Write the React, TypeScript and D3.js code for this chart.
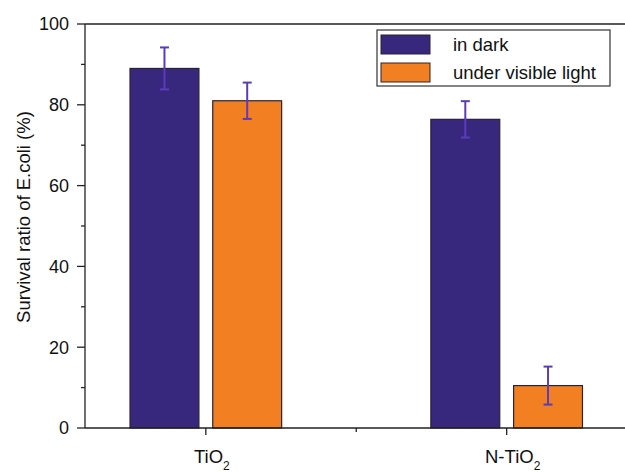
import React from "react";
import * as d3 from "d3";

const categories = ["TiO", "N-TiO"];
const series = ["in dark", "under visible light"];
const darkValues = [89, 76.4];
const darkErrors = [5.2, 4.5];
const lightValues = [81, 10.5];
const lightErrors = [4.5, 4.7];
const yTicks = [0, 20, 40, 60, 80, 100];
const yMinorTicks = [10, 30, 50, 70, 90];
const colors = ["#37287e", "#f28022"];

const W = 625;
const H = 472;
const FONT = "'Liberation Sans', Arial, Helvetica, sans-serif";

export default function App() {
  const x = d3.scaleLinear().domain([0.6, 2.4]).range([85.5, 627]);
  const y = d3.scaleLinear().domain([0, 100]).range([428, 24]);
  const barW = 0.229;
  const offset = 0.1375;
  const errColor = "#5b3cb8";

  const seriesData = [
    { values: darkValues, errors: darkErrors, off: -offset, color: colors[0] },
    { values: lightValues, errors: lightErrors, off: offset, color: colors[1] },
  ];

  return (
    <svg width={W} height={H} style={{ position: "absolute", left: 0, top: 0, background: "#fff" }}
      fontFamily={FONT}>
      {/* bars */}
      {seriesData.map((s, si) =>
        s.values.map((v, i) => {
          const cx = i + 1 + s.off;
          const x0 = x(cx - barW / 2);
          const x1 = x(cx + barW / 2);
          return (
            <rect key={`b${si}-${i}`} x={x0} y={y(v)} width={x1 - x0} height={y(0) - y(v)}
              fill={s.color} stroke="#2a2230" strokeWidth={1.2} />
          );
        })
      )}
      {/* error bars */}
      {seriesData.map((s, si) =>
        s.values.map((v, i) => {
          const cx = x(i + 1 + s.off);
          const e = s.errors[i];
          return (
            <g key={`e${si}-${i}`} stroke={errColor} strokeWidth={2}>
              <line x1={cx} x2={cx} y1={y(v + e)} y2={y(v - e)} />
              <line x1={cx - 4.5} x2={cx + 4.5} y1={y(v + e)} y2={y(v + e)} />
              <line x1={cx - 4.5} x2={cx + 4.5} y1={y(v - e)} y2={y(v - e)} />
            </g>
          );
        })
      )}
      {/* axes frame */}
      <line x1={85} x2={625} y1={y(100)} y2={y(100)} stroke="#222" strokeWidth={1.3} />
      <line x1={85} x2={625} y1={y(0)} y2={y(0)} stroke="#222" strokeWidth={1.3} />
      <line x1={85} x2={85} y1={y(100)} y2={y(0)} stroke="#222" strokeWidth={1.3} />
      {/* y ticks */}
      {yTicks.map((t) => (
        <g key={`yt${t}`}>
          <line x1={77} x2={85} y1={y(t)} y2={y(t)} stroke="#222" strokeWidth={1.3} />
          <text x={69} y={y(t)} dy="0.36em" textAnchor="end" fontSize={18} fill="#111">{t}</text>
        </g>
      ))}
      {yMinorTicks.map((t) => (
        <line key={`ym${t}`} x1={81} x2={85} y1={y(t)} y2={y(t)} stroke="#222" strokeWidth={1.3} />
      ))}
      {/* x ticks */}
      {categories.map((c, i) => (
        <g key={`xt${i}`}>
          <line x1={x(i + 1)} x2={x(i + 1)} y1={y(0)} y2={y(0) + 7} stroke="#222" strokeWidth={1.3} />
          <text x={x(i + 1) + 6} y={463} textAnchor="middle" fontSize={18.5} fill="#111">
            {c}
            <tspan fontSize={12} dy={7}>2</tspan>
          </text>
        </g>
      ))}
      <line x1={x(1.5)} x2={x(1.5)} y1={y(0)} y2={y(0) + 4} stroke="#222" strokeWidth={1.3} />
      {/* y label */}
      <text transform={`translate(30,217) rotate(-90)`} textAnchor="middle" fontSize={18.5} fill="#111">
        Survival ratio of E.coli (%)
      </text>
      {/* legend */}
      <rect x={377} y={30} width={233} height={56} fill="#fff" stroke="#333" strokeWidth={1.2} />
      {series.map((s, i) => (
        <g key={`lg${i}`}>
          <rect x={381} y={35 + i * 28} width={49} height={19} fill={colors[i]} stroke="#2a2230" strokeWidth={1} />
          <text x={453} y={51 + i * 28} fontSize={18.5} fill="#111">{s}</text>
        </g>
      ))}
    </svg>
  );
}
